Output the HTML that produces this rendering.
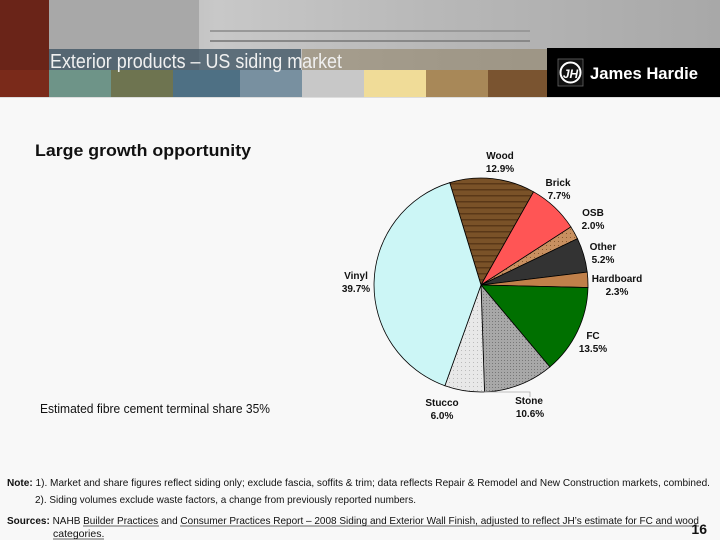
<!DOCTYPE html>
<html><head><meta charset="utf-8"><style>
html,body{margin:0;padding:0;background:#f8f8f8;}
svg{display:block;font-family:"Liberation Sans",Arial,sans-serif;}
</style></head><body>
<svg id="s" width="720" height="540" viewBox="0 0 720 540" xmlns="http://www.w3.org/2000/svg">
<defs>
<linearGradient id="photo" x1="0" y1="0" x2="1" y2="0">
<stop offset="0" stop-color="#9a9a9a"/><stop offset="0.3" stop-color="#c8c8c8"/><stop offset="0.6" stop-color="#b8b8b8"/><stop offset="1" stop-color="#a8a8a8"/></linearGradient>
<pattern id="wood" width="20" height="6" patternUnits="userSpaceOnUse"><rect width="20" height="6" fill="#7a5228"/><rect y="3" width="20" height="1.5" fill="#5a3818"/></pattern>
<pattern id="dots" width="3" height="3" patternUnits="userSpaceOnUse"><rect width="3" height="3" fill="#a8a8a8"/><rect width="1" height="1" fill="#777"/></pattern>
<pattern id="stucco" width="4" height="4" patternUnits="userSpaceOnUse"><rect width="4" height="4" fill="#e8e8e8"/><rect x="1" y="2" width="1" height="1" fill="#bbb"/></pattern>
<pattern id="osb" width="4" height="4" patternUnits="userSpaceOnUse"><rect width="4" height="4" fill="#c89060"/><rect x="2" y="1" width="1" height="1" fill="#8a5a30"/></pattern>
</defs>
<rect width="720" height="540" fill="#f8f8f8"/>
<rect x="0" y="0" width="720" height="70" fill="url(#photo)"/>
<rect x="0" y="0" width="49" height="70" fill="#6a2418"/>
<rect x="49" y="0" width="150" height="70" fill="#a8a8a8"/>
<rect x="210" y="40" width="320" height="2" fill="#888"/>
<rect x="210" y="30" width="320" height="2" fill="#999"/>
<rect x="0" y="70" width="49" height="27" fill="#7a2a1a"/>
<rect x="49" y="70" width="62" height="27" fill="#6e9488"/>
<rect x="111" y="70" width="62" height="27" fill="#6e7450"/>
<rect x="173" y="70" width="67" height="27" fill="#4e7084"/>
<rect x="240" y="70" width="62" height="27" fill="#7890a0"/>
<rect x="302" y="70" width="62" height="27" fill="#c8c8c8"/>
<rect x="364" y="70" width="62" height="27" fill="#f0dc98"/>
<rect x="426" y="70" width="62" height="27" fill="#a88858"/>
<rect x="488" y="70" width="59" height="27" fill="#7a5430"/>
<rect x="302" y="49" width="245" height="21" fill="#8a7a5a" opacity="0.5"/>
<rect x="49" y="49" width="252" height="21" fill="#3a5060" opacity="0.75"/>
<text x="50" y="68" font-size="20" fill="#f0f0f0" textLength="292" lengthAdjust="spacingAndGlyphs">Exterior products – US siding market</text>
<rect x="547" y="48" width="173" height="49" fill="#000"/>
<rect x="558" y="59" width="25" height="27" fill="#111" stroke="#666" stroke-width="0.8"/>
<circle cx="570.5" cy="72.5" r="10" fill="none" stroke="#fff" stroke-width="2"/>
<text x="570.5" y="78" font-size="12" font-weight="bold" font-style="italic" fill="#fff" text-anchor="middle">JH</text>
<text x="590" y="79" font-size="17" font-weight="bold" fill="#fff" textLength="108" lengthAdjust="spacingAndGlyphs">James Hardie</text>
<rect x="0" y="97" width="720" height="1" fill="#ddd"/>

<text x="35" y="156" font-size="17" font-weight="bold" fill="#111" textLength="216" lengthAdjust="spacingAndGlyphs">Large growth opportunity</text>
<text x="40" y="413" font-size="12.5" fill="#111" textLength="230" lengthAdjust="spacingAndGlyphs">Estimated fibre cement terminal share 35%</text>

<g id="pie"></g>

<g font-size="10" font-weight="bold" fill="#111" text-anchor="middle">
<text x="500" y="159">Wood</text><text x="500" y="172">12.9%</text>
<text x="558" y="186">Brick</text><text x="559" y="199">7.7%</text>
<text x="593" y="216">OSB</text><text x="593" y="229">2.0%</text>
<text x="603" y="250">Other</text><text x="603" y="263">5.2%</text>
<text x="617" y="282">Hardboard</text><text x="617" y="295">2.3%</text>
<text x="593" y="339">FC</text><text x="593" y="352">13.5%</text>
<text x="529" y="404">Stone</text><text x="530" y="417">10.6%</text>
<text x="442" y="406">Stucco</text><text x="442" y="419">6.0%</text>
<text x="356" y="279">Vinyl</text><text x="356" y="292">39.7%</text>
</g>
<polyline points="484,392 530,392 530,397" fill="none" stroke="#aaa" stroke-width="0.8"/>

<g font-size="10.5" fill="#111">
<text x="7" y="486" textLength="703" lengthAdjust="spacingAndGlyphs"><tspan font-weight="bold">Note:</tspan> 1). Market and share figures reflect siding only; exclude fascia, soffits &amp; trim; data reflects Repair &amp; Remodel and New Construction markets, combined.</text>
<text x="35" y="503" textLength="381" lengthAdjust="spacingAndGlyphs">2). Siding volumes exclude waste factors, a change from previously reported numbers.</text>
<text x="7" y="524" textLength="692" lengthAdjust="spacingAndGlyphs"><tspan font-weight="bold">Sources:</tspan>  NAHB Builder Practices and Consumer Practices Report – 2008 Siding and Exterior Wall Finish, adjusted to reflect JH’s estimate for FC and wood</text>
<text x="53" y="537">categories.</text>
</g>
<g stroke="#333" stroke-width="0.7">
<line x1="83" y1="526" x2="159" y2="526"/><line x1="180" y1="526" x2="699" y2="526"/><line x1="53" y1="539" x2="104" y2="539"/>
</g>
<text x="707" y="534" font-size="14" font-weight="bold" fill="#111" text-anchor="end">16</text>
</svg>
<script>
(function(){
var cx=481,cy=285,r=107;
var d=[[12.9,"url(#wood)"],[7.7,"#ff5555"],[2.0,"url(#osb)"],[5.2,"#333333"],[2.3,"#c0804a"],[13.5,"#007000"],[10.6,"url(#dots)"],[6.0,"url(#stucco)"],[39.8,"#ccf6f6"]];
var a=-17,g=document.getElementById("pie"),h="";
d.forEach(function(s){
 var b=a+s[0]*3.6;
 var r1=(a-90)*Math.PI/180,r2=(b-90)*Math.PI/180;
 var x1=cx+r*Math.cos(r1),y1=cy+r*Math.sin(r1),x2=cx+r*Math.cos(r2),y2=cy+r*Math.sin(r2);
 var large=(b-a)>180?1:0;
 h+='<path d="M'+cx+','+cy+' L'+x1.toFixed(2)+','+y1.toFixed(2)+' A'+r+','+r+' 0 '+large+' 1 '+x2.toFixed(2)+','+y2.toFixed(2)+' Z" fill="'+s[1]+'" stroke="#000" stroke-width="0.8"/>';
 a=b;
});
g.innerHTML=h;
})();
</script>
</body></html>
